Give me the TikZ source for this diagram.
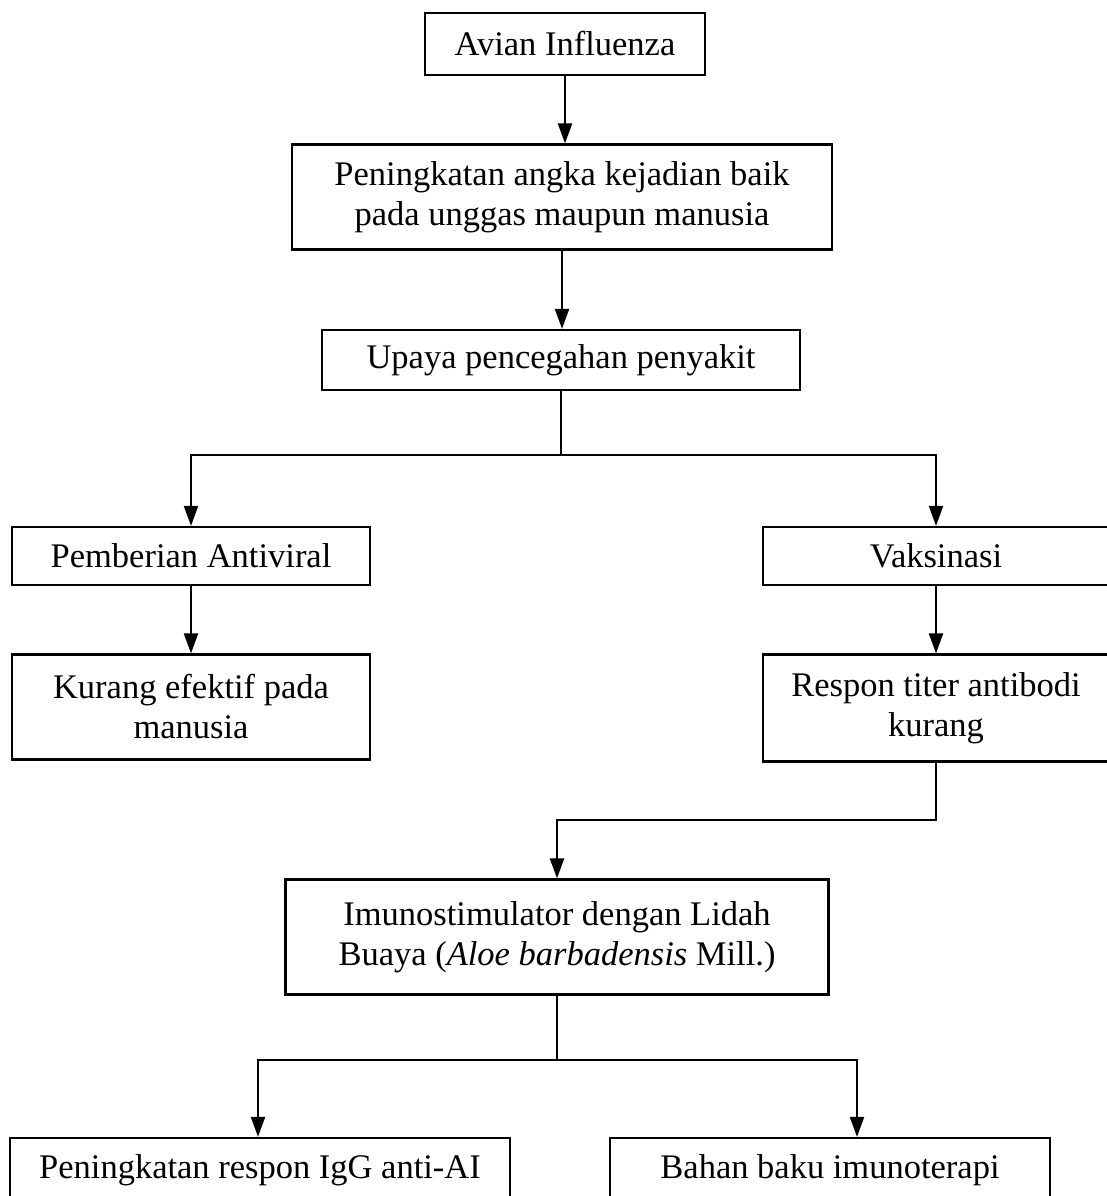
\documentclass[tikz,border=0pt]{standalone}
\usepackage{fontspec}
\setmainfont{Liberation Serif}
\usetikzlibrary{arrows.meta,positioning}

\begin{document}
\begin{tikzpicture}[x=1pt,y=-1pt,
  box/.style={draw,line width=2.2pt,align=center,inner sep=0pt,
    font=\fontsize{34.5}{40}\selectfont},
  line/.style={line width=2.2pt},
  link/.style={line width=2.2pt,-{Triangle[length=20pt,width=14pt]}}]
  \useasboundingbox (0,0) rectangle (1107,1196);
  % main column
  \node[box,minimum width=280pt,minimum height=62pt] (avian) at (565,44) {Avian Influenza};
  \node[box,minimum width=540pt,minimum height=105pt] (kejadian) at (562,197)
    {Peningkatan angka kejadian baik\\pada unggas maupun manusia};
  \node[box,minimum width=478pt,minimum height=60pt] (upaya) at (561,360) {Upaya pencegahan penyakit};
  % two branches
  \node[box,minimum width=358pt,minimum height=58pt] (antiviral) at (191,556) {Pemberian Antiviral};
  \node[box,minimum width=346pt,minimum height=58pt] (vaksin) at (936,556) {Vaksinasi};
  \node[box,minimum width=358pt,minimum height=105pt] (kurang) at (191,707)
    {Kurang efektif pada\\manusia};
  \node[box,minimum width=346pt,minimum height=107pt] (respon) at (936,708)
    {Respon titer antibodi\\kurang};
  \node[box,minimum width=543pt,minimum height=115pt] (imuno) at (557,937)
    {Imunostimulator dengan Lidah\\Buaya (\textit{Aloe barbadensis} Mill.)};
  \node[box,minimum width=500pt,minimum height=64pt] (igg) at (260,1170) {Peningkatan respon IgG anti-AI};
  \node[box,minimum width=440pt,minimum height=64pt] (bahan) at (830,1170) {Bahan baku imunoterapi};

  \coordinate (split1) at (561,455);
  \coordinate (join) at (557,820);
  \coordinate (split2) at (557,1060);

  \draw[link] (avian.south) -- (avian.south |- kejadian.north);
  \draw[link] (kejadian.south) -- (kejadian.south |- upaya.north);
  \draw[line] (upaya.south) -- (split1);
  \draw[link] (split1) -| (antiviral.north);
  \draw[link] (split1) -| (vaksin.north);
  \draw[link] (antiviral) -- (kurang);
  \draw[link] (vaksin) -- (respon);
  \draw[link] (respon.south) |- (join) -- (imuno.north);
  \draw[line] (imuno.south) -- (split2);
  \draw[link] (split2) -| ([xshift=-2pt]igg.north);
  \draw[link] (split2) -| ([xshift=27pt]bahan.north);
\end{tikzpicture}
\end{document}
